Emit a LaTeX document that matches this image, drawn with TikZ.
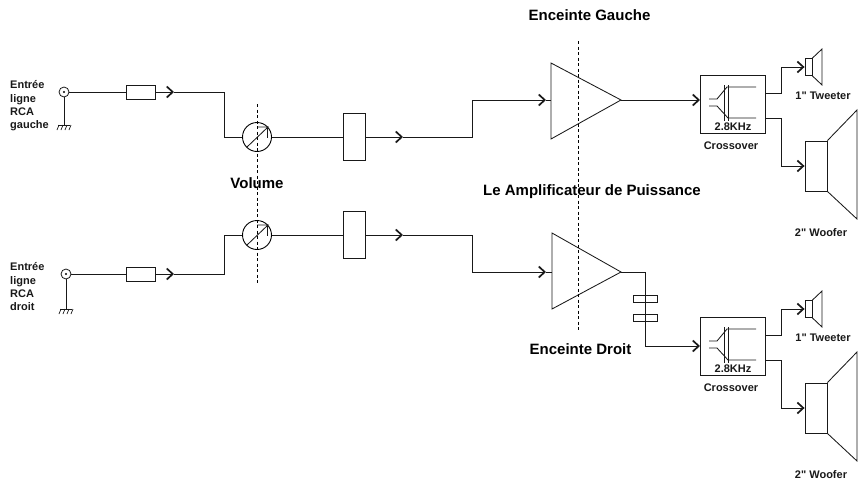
\documentclass[tikz,border=0pt]{standalone}
\usepackage{fontspec}
\setmainfont{Liberation Sans}
\newfontfamily\plainsans{Liberation Sans}
\usetikzlibrary{arrows.meta,calc}
\tikzset{
  x=1pt,y=-1pt,
  wire/.style={line width=0.85pt,color=black!90},
  sym/.style={line width=0.85pt,color=black!90},
  chev/.style={wire,-{Straight Barb[length=6pt,width=11pt,line width=1.7pt]}},
  boxn/.style={draw=black!90,line width=0.85pt,fill=white,inner sep=0pt,minimum width=#1},
  boxn/.default=22pt,
  jack/.style={circle,draw=black!90,line width=0.8pt,fill=white,minimum size=10pt,inner sep=0pt},
  pot/.style={circle,draw=black,line width=0.9pt,minimum size=29pt,inner sep=0pt},
  small/.style={font=\plainsans\bfseries\fontsize{11}{13.4}\selectfont,inner sep=0pt,color=black!90},
  big/.style={font=\bfseries\fontsize{15}{17}\selectfont,inner sep=0pt,color=black},
  dashline/.style={line width=0.9pt,dash pattern=on 3pt off 2.5pt,color=black},
}
% speaker block: #1 name suffix, #2 vertical offset
\newcommand{\outblock}[2]{%
  \begin{scope}[yshift=-#2pt]
    \node[draw=black!90,line width=0.9pt,minimum width=65pt,minimum height=58pt,inner sep=0pt] (xo#1) at (732.5,104) {};
    \coordinate (xoa#1) at (765,93);
    \coordinate (xob#1) at (765,118);
    \coordinate (ja#1) at (781,93);
    \coordinate (jb#1) at (781,67);
    \coordinate (jc#1) at (781,118);
    \coordinate (jd#1) at (781,166);
    \node[draw=black!90,line width=0.85pt,minimum width=7pt,minimum height=17pt,inner sep=0pt] (tw#1) at (808.5,67) {};
    \node[draw=black!90,line width=0.85pt,minimum width=22pt,minimum height=50pt,inner sep=0pt] (wf#1) at (816,166) {};
    \draw[sym] (tw#1.north east) -- (822,49) -- (822,85) -- (tw#1.south east);
    \draw[sym] (wf#1.north east) -- (857,110) -- (857,219) -- (wf#1.south east);
    \draw[sym] (709,99) -- (717,99) -- (727,87) -- (756,87);
    \draw[sym] (709,106) -- (717,106) -- (728,118) -- (756,118);
    \draw[sym] (724,85) -- (724,121);
    \draw[sym] (728,85) -- (728,121);
    \node[small] (fc#1) at (733,127) {2.8KHz};
    \node[small] (xl#1) at (731,145.5) {Crossover};
    \node[small] (tl#1) at (823,96) {1" Tweeter};
    \node[small] (wl#1) at (821,233) {2" Woofer};
    \draw[chev] (xoa#1) -- (ja#1) -- (jb#1) -- (tw#1.west);
    \draw[chev] (xob#1) -- (jc#1) -- (jd#1) -- (wf#1.west);
  \end{scope}
}
% ground: #1 name, #2 jack node, #3 length
\newcommand{\gnd}[3]{%
  \path (#2.center) ++(0,#3) coordinate (#1);
  \draw[wire] (#2.south) -- (#1);
  \draw[sym,line width=0.7pt] ($(#1)+(-6,0)$) -- ($(#1)+(6,0)$);
  \foreach \d in {-4,0,4,8}{\draw[sym,line width=0.7pt] ($(#1)+(\d-1,0)$) -- ($(#1)+(\d-3,5)$);}
}
% pot arrow inside circle: #1 pot node
\newcommand{\potmark}[1]{%
  \draw[sym] (#1.center) ++(-10,10) -- ++(21,-20) -- ++(-11,0);
  \draw[sym,line width=0.7pt] (#1.center) ++(10,-10) -- ++(0,11);
}
\begin{document}
\begin{tikzpicture}
\useasboundingbox (0,0) rectangle (865,482);
% labels
\node[small,align=left,anchor=north west] (inl) at (10,80.5) {Entrée\\ligne\\RCA\\gauche};
\node[small,align=left,anchor=north west] (inr) at (10,262.5) {Entrée\\ligne\\RCA\\droit};
\node[big] (t1) at (589.5,15) {Enceinte Gauche};
\node[big] (t2) at (592,192) {Le Amplificateur de Puissance};
\node[big] (t3) at (580.5,349) {Enceinte Droit};
\node[big] (t4) at (257,183) {Volume};
% top channel
\node[jack] (j1) at (64,92) {};
\node[boxn=29pt,minimum height=14pt] (f1) at (140.5,92) {};
\coordinate (c1) at (174,92);
\coordinate (k1) at (224,92);
\coordinate (k2) at (224,137);
\node[pot] (p1) at (257,137) {};
\node[boxn=22pt,minimum height=47pt] (b1) at (354,137) {};
\coordinate (c2) at (403,137);
\coordinate (k3) at (472,137);
\coordinate (k4) at (472,100);
\coordinate (c3) at (546,100);
\coordinate (a1l) at (551,100);
\coordinate (a1r) at (621,100);
\coordinate (c4) at (700,100);
\gnd{g1}{j1}{33}
\draw[wire] (j1.east) -- (f1.west);
\fill[black] (j1.center) circle (1.2pt);
\draw[chev] (f1.east) -- (c1);
\draw[wire] (c1) -- (k1) -- (k2) -- (p1.west);
\potmark{p1}
\draw[wire] (p1.east) -- (b1.west);
\draw[chev] (b1.east) -- (c2);
\draw[wire] (c2) -- (k3) -- (k4);
\draw[chev] (k4) -- (c3);
\draw[wire] (c3) -- (a1l);
\draw[sym] (551,63) -- (a1r) -- (551,139) -- cycle;
\draw[chev] (a1r) -- (c4);
% bottom channel
\node[jack] (j2) at (66,274) {};
\node[boxn=29pt,minimum height=14pt] (f2) at (140.5,274) {};
\coordinate (c5) at (174,274);
\coordinate (k5) at (224,274);
\coordinate (k6) at (224,235);
\node[pot] (p2) at (257,235) {};
\node[boxn=22pt,minimum height=47pt] (b2) at (354,235) {};
\coordinate (c6) at (403,235);
\coordinate (k7) at (472,235);
\coordinate (k8) at (472,272);
\coordinate (c7) at (546,272);
\coordinate (a2l) at (552,272);
\coordinate (a2r) at (621,272);
\coordinate (k9) at (645,272);
\coordinate (k10) at (645,346);
\coordinate (c8) at (700,346);
\gnd{g2}{j2}{35}
\draw[wire] (j2.east) -- (f2.west);
\fill[black] (j2.center) circle (1.2pt);
\draw[chev] (f2.east) -- (c5);
\draw[wire] (c5) -- (k5) -- (k6) -- (p2.west);
\potmark{p2}
\draw[wire] (p2.east) -- (b2.west);
\draw[chev] (b2.east) -- (c6);
\draw[wire] (c6) -- (k7) -- (k8);
\draw[chev] (k8) -- (c7);
\draw[wire] (c7) -- (a2l);
\draw[sym] (552,233) -- (a2r) -- (552,309) -- cycle;
\draw[chev] (a2r) -- (k9) -- (k10) -- (c8);
\node[boxn=24pt,minimum height=7pt,fill=none] (s1) at (645,299) {};
\node[boxn=24pt,minimum height=7pt,fill=none] (s2) at (645,318) {};
% dashed lines
\draw[dashline] (257.4,104) -- (257.4,285);
\draw[dashline] (578,41) -- (578,330);
% outputs
\outblock{a}{0}
\outblock{b}{242}
\end{tikzpicture}
\end{document}
